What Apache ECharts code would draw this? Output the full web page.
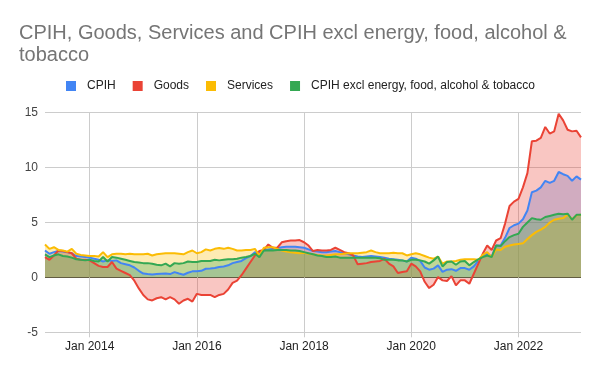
<!DOCTYPE html>
<html><head><meta charset="utf-8">
<script src="https://cdn.jsdelivr.net/npm/echarts@6/dist/echarts.min.js"></script>
<style>html,body{margin:0;padding:0;background:#fff}#c{width:600px;height:371px}</style>
</head><body><div id="c"></div>
<script>
// Monthly data, Mar 2013 .. Mar 2023
const startYear = 2013, startMonth = 3, monthCount = 121;
const monthNames = ['Jan','Feb','Mar','Apr','May','Jun','Jul','Aug','Sep','Oct','Nov','Dec'];
const yTicks = [-5, 0, 5, 10, 15];
const seriesNames = ['CPIH', 'Goods', 'Services', 'CPIH excl energy, food, alcohol & tobacco'];

const cpih = [
  2.45, 2.15, 2.3, 2.4, 2.35, 2.3, 2.2, 1.95, 1.9, 1.85,
  1.8, 1.7, 1.6, 1.45, 1.55, 1.5, 1.55, 1.3, 1.2, 1.1, 0.9, 0.6,
  0.35, 0.3, 0.27, 0.3, 0.33, 0.35, 0.3, 0.48, 0.35, 0.24, 0.42, 0.55,
  0.57, 0.6, 0.79, 0.8, 0.85, 0.94, 1.0, 1.1, 1.3, 1.4, 1.5, 1.75,
  1.95, 2.3, 2.3, 2.45, 2.55, 2.6, 2.65, 2.75, 2.8, 2.8, 2.8, 2.75,
  2.7, 2.55, 2.4, 2.35, 2.3, 2.3, 2.35, 2.4, 2.3, 2.2, 2.1, 2.0,
  1.9, 1.85, 1.9, 1.95, 1.9, 1.85, 1.8, 1.7, 1.65, 1.6, 1.55, 1.45,
  1.8, 1.7, 1.5, 0.9, 0.7, 0.8, 1.1, 0.5, 0.7, 0.75, 0.6, 0.85,
  0.85, 0.7, 1.0, 1.5, 2.0, 2.15, 1.9, 2.9, 2.9, 3.6, 4.5, 4.75,
  4.9, 5.3, 6.1, 7.75, 7.9, 8.2, 8.8, 8.6, 8.8, 9.6, 9.4, 9.25,
  8.8, 9.2, 8.9
];
const goods = [
  1.85, 1.6, 2.0, 2.45, 2.4, 2.3, 2.2, 1.7, 1.6, 1.6,
  1.55, 1.3, 1.05, 0.95, 0.95, 1.4, 0.8, 0.6, 0.4, 0.2, -0.3, -1.0,
  -1.6, -2.0, -2.1, -1.9, -1.8, -2.0, -1.8, -2.0, -2.4, -2.1, -1.95, -2.2,
  -1.5, -1.6, -1.6, -1.6, -1.8, -1.6, -1.5, -1.1, -0.5, -0.3, 0.2, 0.8,
  1.4, 2.0, 2.4, 2.5, 3.0, 2.7, 2.7, 3.2, 3.3, 3.35, 3.35, 3.4,
  3.2, 2.9, 2.4, 2.5, 2.45, 2.45, 2.5, 2.7, 2.5, 2.3, 2.2, 2.0,
  1.2, 1.25, 1.3, 1.4, 1.45, 1.5, 1.7, 1.25, 1.0, 0.4, 0.5, 0.57,
  1.25, 1.0, 0.55, -0.4, -0.97, -0.67, 0.03, -0.27, -0.33, 0.12, -0.73, -0.27,
  -0.27, -0.58, 0.33, 1.24, 2.15, 2.9, 2.5, 3.36, 3.57, 4.9, 6.5, 6.9,
  7.15, 8.2, 9.5, 12.4, 12.45, 12.7, 13.7, 13.1, 13.3, 14.9, 14.3, 13.45,
  13.3, 13.36, 12.75
];
const services = [
  3.0, 2.6, 2.75, 2.5, 2.45, 2.35, 2.6, 2.15, 2.05, 2.0,
  1.95, 1.95, 1.9, 2.3, 1.85, 2.1, 2.15, 2.15, 2.1, 2.15, 2.1, 2.1,
  2.1, 2.15, 2.0, 2.1, 2.15, 2.2, 2.2, 2.2, 2.15, 2.1, 2.3, 2.45,
  2.2, 2.3, 2.55, 2.45, 2.6, 2.67, 2.6, 2.7, 2.6, 2.45, 2.45, 2.5,
  2.5, 2.6, 2.0, 2.7, 2.75, 2.75, 2.6, 2.45, 2.35, 2.3, 2.25, 2.2,
  2.25, 2.15, 2.1, 2.05, 2.0, 2.0, 2.05, 2.1, 2.1, 2.15, 2.2, 2.2,
  2.2, 2.25, 2.3, 2.45, 2.3, 2.2, 2.2, 2.2, 2.25, 2.2, 2.2, 2.0,
  2.1, 2.2, 2.1, 1.95, 1.8, 1.7, 1.9, 1.25, 1.45, 1.45, 1.5, 1.6,
  1.65, 1.65, 1.65, 1.6, 2.05, 2.3, 1.85, 2.55, 2.5, 2.8, 2.9, 3.0,
  3.05, 3.1, 3.5, 3.85, 4.15, 4.35, 4.6, 5.0, 5.25, 5.35, 5.4, 5.7,
  5.3, 5.65, 5.7
];
const cpihExcl = [
  2.1, 1.85, 2.0, 2.1, 1.95, 1.9, 1.8, 1.65, 1.6, 1.55,
  1.6, 1.5, 1.45, 1.85, 1.45, 1.85, 1.8, 1.7, 1.6, 1.5, 1.4, 1.35,
  1.3, 1.3, 1.25, 1.15, 1.1, 1.25, 1.0, 1.3, 1.25, 1.3, 1.45, 1.4,
  1.4, 1.5, 1.5, 1.5, 1.6, 1.55, 1.6, 1.65, 1.65, 1.7, 1.8, 1.85,
  1.95, 2.15, 1.85, 2.45, 2.45, 2.45, 2.5, 2.5, 2.5, 2.45, 2.45, 2.4,
  2.3, 2.2, 2.1, 2.0, 1.95, 1.85, 1.85, 1.9, 1.8, 1.8, 1.8, 1.8,
  1.8, 1.8, 1.8, 1.8, 1.8, 1.75, 1.6, 1.6, 1.6, 1.55, 1.55, 1.45,
  1.6, 1.6, 1.55, 1.45, 1.25, 1.55, 1.9, 1.0, 1.4, 1.45, 1.15, 1.45,
  1.5, 1.1, 1.4, 1.65, 1.85, 2.0, 1.85, 2.9, 2.85, 3.3, 3.67, 3.85,
  3.97, 4.6, 5.0, 5.4, 5.3, 5.25, 5.5, 5.6, 5.7, 5.8, 5.75, 5.8,
  5.25, 5.7, 5.7
];

const months = [];
for (let k = 0; k < monthCount; k++) {
  const m = (startMonth - 1 + k) % 12;
  const y = startYear + Math.floor((startMonth - 1 + k) / 12);
  months.push(monthNames[m] + ' ' + y);
}
const isMajor = (idx, val) => /^Jan (\d+)$/.test(val) && (+val.slice(4)) % 2 === 0;

const colors = ['#4285F4', '#EA4335', '#FBBC04', '#34A853'];
const values = [cpih, goods, services, cpihExcl];
const FONT = '"Liberation Sans", Arial, sans-serif';

const chart = echarts.init(document.getElementById('c'), null, {renderer: 'canvas'});
chart.setOption({
  animation: false,
  backgroundColor: '#fff',
  color: colors,
  title: {
    text: 'CPIH, Goods, Services and CPIH excl energy, food, alcohol & tobacco',
    left: 19, top: 22,
    padding: 0,
    textStyle: {fontFamily: FONT, fontSize: 20, fontWeight: 'normal', color: '#757575',
      width: 572, overflow: 'break', lineHeight: 22}
  },
  legend: {
    left: 66, top: 80, padding: 0,
    icon: 'rect', itemWidth: 10, itemHeight: 10, itemGap: 17,
    textStyle: {fontFamily: FONT, fontSize: 12, color: '#222', padding: [0, 0, 0, 6]},
    data: seriesNames
  },
  grid: {left: 45, right: 19, top: 112.7, bottom: 38.7, containLabel: false},
  xAxis: {
    type: 'category', data: months, boundaryGap: false,
    axisLine: {show: false, onZero: false},
    axisTick: {show: true, interval: isMajor, length: 5, lineStyle: {color: '#ccc'}},
    axisLabel: {interval: isMajor, fontFamily: FONT, fontSize: 12, color: '#222', margin: 8},
    splitLine: {show: true, interval: isMajor, lineStyle: {color: '#ccc', width: 1}}
  },
  yAxis: {
    type: 'value', min: yTicks[0], max: yTicks[yTicks.length - 1], interval: 5,
    axisLine: {show: false}, axisTick: {show: false},
    axisLabel: {fontFamily: FONT, fontSize: 12, color: '#444', margin: 7},
    splitLine: {lineStyle: {color: ['#ccc', '#333', '#ccc', '#ccc', '#ccc'], width: 1}}
  },
  series: seriesNames.map((n, k) => ({
    name: n, type: 'line', data: values[k], showSymbol: false, symbol: 'none',
    lineStyle: {width: 2, color: colors[k]},
    itemStyle: {color: colors[k]},
    areaStyle: {color: colors[k], opacity: 0.3, origin: 0}
  }))
});
</script></body></html>
